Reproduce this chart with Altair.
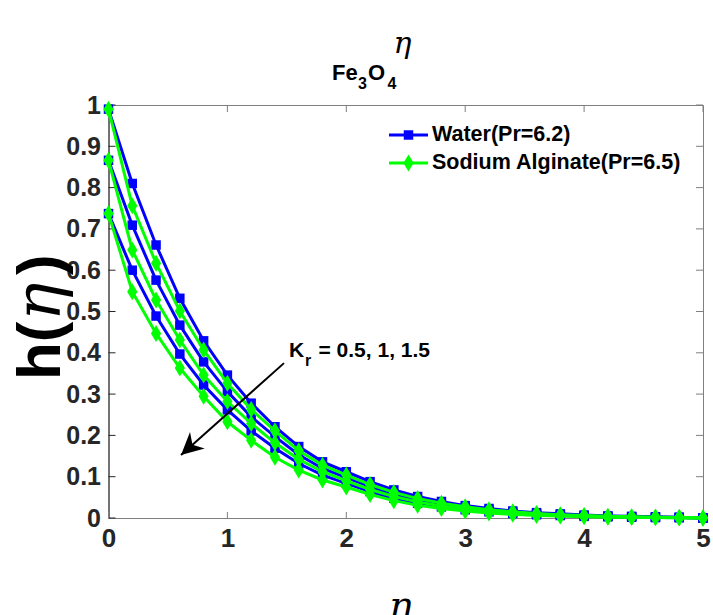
import altair as alt
import pandas as pd

eta = [0.0, 0.2, 0.4, 0.6, 0.8, 1.0, 1.2, 1.4, 1.6, 1.8, 2.0, 2.2, 2.4,
       2.6, 2.8, 3.0, 3.2, 3.4, 3.6, 3.8, 4.0, 4.2, 4.4, 4.6, 4.8, 5.0]

water_kr05 = [0.990, 0.810, 0.661, 0.532, 0.429, 0.346, 0.278, 0.221, 0.173, 0.136, 0.112, 0.088, 0.068,
              0.052, 0.040, 0.030, 0.023, 0.017, 0.013, 0.010, 0.007, 0.005, 0.004, 0.003, 0.002, 0.000]
water_kr1 = [0.866, 0.709, 0.576, 0.467, 0.378, 0.306, 0.245, 0.197, 0.153, 0.120, 0.098, 0.076, 0.058,
             0.044, 0.033, 0.025, 0.019, 0.014, 0.010, 0.008, 0.006, 0.004, 0.003, 0.002, 0.001, 0.000]
water_kr15 = [0.737, 0.600, 0.489, 0.397, 0.322, 0.262, 0.211, 0.169, 0.132, 0.104, 0.084, 0.064, 0.048,
              0.036, 0.027, 0.020, 0.015, 0.011, 0.008, 0.006, 0.004, 0.003, 0.002, 0.001, 0.001, 0.000]
sodium_kr05 = [0.990, 0.756, 0.617, 0.501, 0.407, 0.326, 0.263, 0.211, 0.163, 0.128, 0.104, 0.081, 0.062,
               0.047, 0.036, 0.027, 0.020, 0.015, 0.011, 0.008, 0.006, 0.004, 0.003, 0.002, 0.001, 0.000]
sodium_kr1 = [0.866, 0.649, 0.528, 0.431, 0.346, 0.282, 0.229, 0.182, 0.142, 0.112, 0.090, 0.069, 0.052,
              0.039, 0.029, 0.022, 0.016, 0.012, 0.009, 0.006, 0.005, 0.003, 0.002, 0.002, 0.001, 0.000]
sodium_kr15 = [0.737, 0.548, 0.447, 0.363, 0.295, 0.233, 0.188, 0.147, 0.116, 0.092, 0.075, 0.057, 0.042,
               0.031, 0.023, 0.017, 0.012, 0.009, 0.006, 0.005, 0.003, 0.002, 0.002, 0.001, 0.000, 0.000]

x_ticks = [0, 1, 2, 3, 4, 5]
y_ticks = [0, 0.1, 0.2, 0.3, 0.4, 0.5, 0.6, 0.7, 0.8, 0.9, 1.0]

legend_labels = ["Water(Pr=6.2)", "Sodium Alginate(Pr=6.5)"]
arrow_start = (1.476, 0.375)
arrow_end = (0.61, 0.1525)

BLUE = "#0000FF"
GREEN = "#00FF00"
FONT = "Liberation Sans"
W, H = 594.5, 413

rows = []
for fluid, kr, vals in [("Water", "0.5", water_kr05), ("Water", "1", water_kr1), ("Water", "1.5", water_kr15),
                        ("Sodium", "0.5", sodium_kr05), ("Sodium", "1", sodium_kr1), ("Sodium", "1.5", sodium_kr15)]:
    for e, v in zip(eta, vals):
        rows.append({"eta": e, "h": v, "fluid": fluid, "kr": kr})
df = pd.DataFrame(rows)

x_enc = alt.X("eta:Q", scale=alt.Scale(domain=[0, 5], nice=False),
              axis=alt.Axis(values=x_ticks, ticks=False, tickSize=0, domain=False, grid=False,
                            labelFlush=False,
                            title="η", titleFont="DejaVu Serif", titleFontStyle="italic",
                            titleFontWeight="normal", titleFontSize=38, titleColor="#000000",
                            titleBaseline="alphabetic", titleY=99, titleX=W / 2 - 6,
                            labelFont=FONT, labelFontSize=26, labelFontWeight="bold",
                            labelColor="#262626", labelPadding=7))
y_enc = alt.Y("h:Q", scale=alt.Scale(domain=[0, 1], nice=False),
              axis=alt.Axis(values=y_ticks, format=".1~f", ticks=False, tickSize=0, domain=True,
                            domainColor="#262626", grid=False, labelFlush=False,
                            title=None,
                            labelFont=FONT, labelFontSize=25, labelFontWeight="bold",
                            labelColor="#262626", labelPadding=8))

base = alt.Chart(df)

# inward ticks on all four sides (box on)
df_yt = pd.DataFrame({"h": y_ticks})
df_xt = pd.DataFrame({"eta": x_ticks})
yt_left = alt.Chart(df_yt).mark_rule(color="#262626", strokeWidth=1).encode(
    y=y_enc, x=alt.value(0), x2=alt.value(7))
yt_right = alt.Chart(df_yt).mark_rule(color="#7f7f7f", strokeWidth=1).encode(
    y=y_enc, x=alt.value(W - 7), x2=alt.value(W))
xt_bot = alt.Chart(df_xt).mark_rule(color="#7f7f7f", strokeWidth=1).encode(
    x=x_enc, y=alt.value(H - 6), y2=alt.value(H))
xt_top = alt.Chart(df_xt).mark_rule(color="#7f7f7f", strokeWidth=1).encode(
    x=x_enc, y=alt.value(0), y2=alt.value(7))

water_lines = base.transform_filter(alt.datum.fluid == "Water").mark_line(
    color=BLUE, strokeWidth=3).encode(x=x_enc, y=y_enc, detail="kr:N")
water_pts = base.transform_filter(alt.datum.fluid == "Water").mark_point(
    shape="square", filled=True, size=90, color=BLUE, opacity=1).encode(x=x_enc, y=y_enc)
DIAMOND = "M0,-1L0.6,0L0,1L-0.6,0Z"
sod_lines = base.transform_filter(alt.datum.fluid == "Sodium").mark_line(
    color=GREEN, strokeWidth=3).encode(x=x_enc, y=y_enc, detail="kr:N")
sod_pts = base.transform_filter(alt.datum.fluid == "Sodium").mark_point(
    shape=DIAMOND, filled=True, size=289, color=GREEN, opacity=1).encode(x=x_enc, y=y_enc)

# arrow annotation
df_arrow = pd.DataFrame({"eta": [arrow_start[0]], "h": [arrow_start[1]],
                         "eta2": [arrow_end[0]], "h2": [arrow_end[1]]})
arrow_line = alt.Chart(df_arrow).mark_rule(color="black", strokeWidth=2).encode(
    x=x_enc, y=y_enc, x2="eta2:Q", y2="h2:Q")
df_head = pd.DataFrame({"eta": [arrow_end[0]], "h": [arrow_end[1]]})
arrow_head = alt.Chart(df_head).mark_point(
    shape="M0,0L1,2L0,1.4L-1,2Z", filled=True, size=484, color="black", opacity=1, angle=228).encode(
    x=x_enc, y=y_enc)

one = pd.DataFrame({"a": [0]})


def txt(text, x, y, size, weight="bold", font=FONT, style="normal", align="left",
        baseline="alphabetic", angle=0):
    return alt.Chart(one).mark_text(text=text, font=font, fontSize=size, fontWeight=weight,
                                    fontStyle=style, align=align, baseline=baseline, angle=angle,
                                    color="#000000").encode(x=alt.value(x), y=alt.value(y))


texts = [
    # title
    txt("Fe", 223.5, -25, 22),
    txt("3", 249.5, -16, 16),
    txt("O", 259.5, -25, 22),
    txt("4", 279, -16, 16),
    txt("η", 285, -52, 30, weight="normal", font="DejaVu Serif", style="italic"),
    # y-axis label h(η), rotated
    txt("h(", -48.5, 275, 62, angle=270),
    txt("η", -48.5, 216, 64, weight="normal", font="DejaVu Serif", style="italic", angle=270),
    txt(")", -48.5, 170, 62, angle=270),
    # K_r annotation
    txt("K", 180.5, 252, 21),
    txt("r", 196.5, 261, 16),
    txt("= 0.5, 1, 1.5", 210, 252, 21),
]

# manual legend
leg = []
for i, (lab, col) in enumerate(zip(legend_labels, [BLUE, GREEN])):
    yy = 30 + 28 * i
    leg.append(alt.Chart(one).mark_rule(color=col, strokeWidth=3).encode(
        x=alt.value(280.5), x2=alt.value(319.5), y=alt.value(yy)))
    if i == 0:
        leg.append(alt.Chart(one).mark_point(shape="square", filled=True, size=90, color=col,
                                             opacity=1).encode(x=alt.value(300), y=alt.value(yy)))
    else:
        leg.append(alt.Chart(one).mark_point(shape=DIAMOND, filled=True, size=289, color=col,
                                             opacity=1).encode(x=alt.value(300), y=alt.value(yy)))
    leg.append(txt(lab, 323.5, yy, 21.5, baseline="middle"))

chart = alt.layer(
    yt_left, yt_right, xt_bot, xt_top,
    water_lines, water_pts, sod_lines, sod_pts,
    arrow_line, arrow_head, *texts, *leg
).properties(
    width=W, height=H,
    autosize=alt.AutoSizeParams(type="none"),
    padding={"left": 108.5, "top": 105, "right": 10, "bottom": 97},
    background="white",
).configure_view(stroke="#7f7f7f", strokeWidth=1)

chart.save("out.html", embed_options={"renderer": "svg", "actions": False})
